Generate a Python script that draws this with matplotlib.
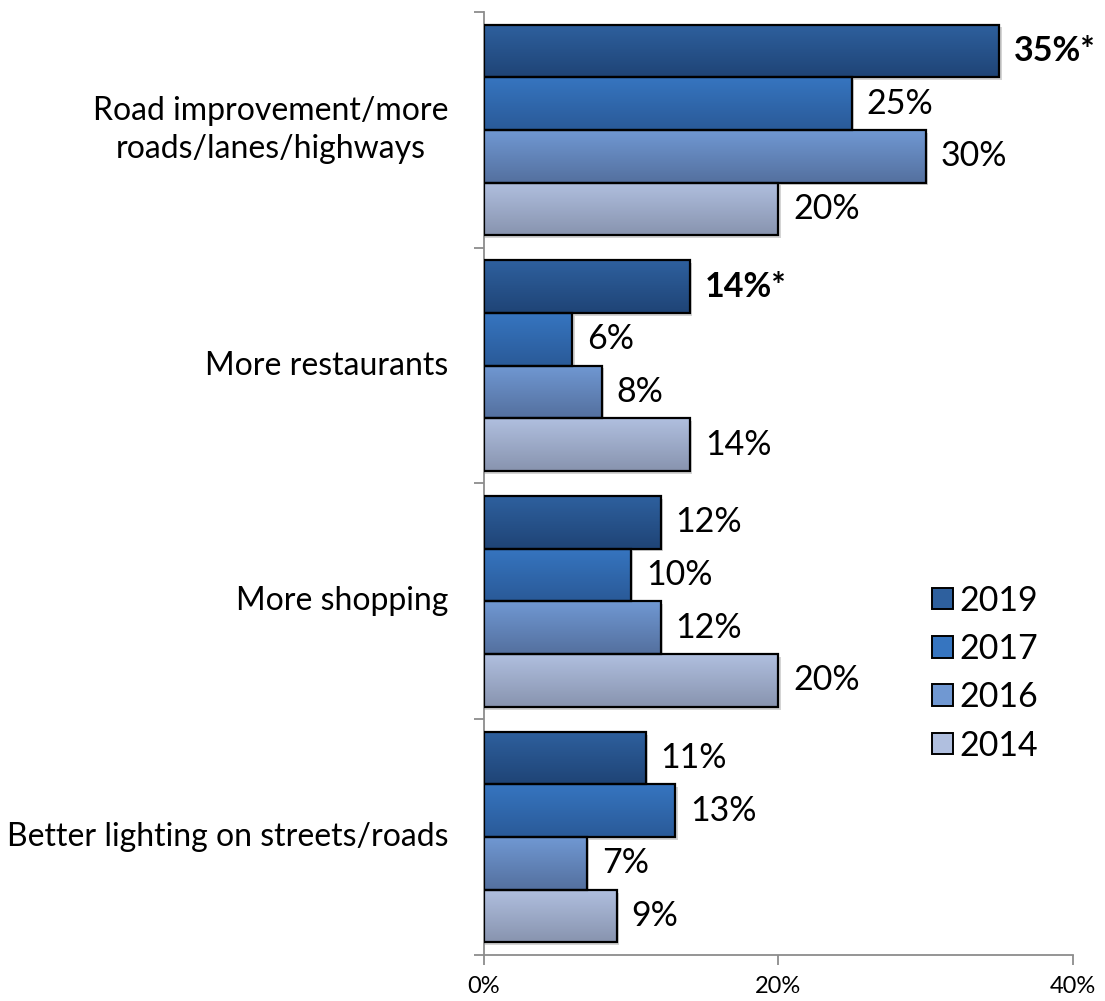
import numpy as np
import matplotlib
matplotlib.use("Agg")
import matplotlib.pyplot as plt
from matplotlib.colors import LinearSegmentedColormap
from matplotlib.patches import Patch

categories = ["Road improvement/more\nroads/lanes/highways",
              "More restaurants",
              "More shopping",
              "Better lighting on streets/roads"]
years = ["2019", "2017", "2016", "2014"]
values = {
    "2019": [35, 14, 12, 11],
    "2017": [25, 6, 10, 13],
    "2016": [30, 8, 12, 7],
    "2014": [20, 14, 20, 9],
}
labels = {
    "2019": ["35%*", "14%*", "12%", "11%"],
    "2017": ["25%", "6%", "10%", "13%"],
    "2016": ["30%", "8%", "12%", "7%"],
    "2014": ["20%", "14%", "20%", "9%"],
}
bold = {"35%*", "14%*"}

# top/bottom colours of the vertical gradient for each year
grad = {
    "2019": ("#2e609e", "#1f4476"),
    "2017": ("#3675c0", "#2a5a98"),
    "2016": ("#7098d2", "#54709f"),
    "2014": ("#b0bfdf", "#8894af"),
}

plt.rcParams['font.family'] = ['Lato', 'DejaVu Sans']

fig = plt.figure(figsize=(11.05, 10.01), dpi=100)
ax = fig.add_axes([0.438, 0.046, 0.533, 0.942])

h = 0.2235
y0 = np.arange(len(categories))
ramp = np.linspace(0, 1, 64).reshape(-1, 1)

for i, yr in enumerate(years):
    pos = y0 - 1.5 * h + i * h
    bars = ax.barh(pos, values[yr], height=h, facecolor="none",
                   edgecolor="black", linewidth=1.6, zorder=3)
    cmap = LinearSegmentedColormap.from_list(yr, [grad[yr][0], grad[yr][1]])
    for b, lab in zip(bars, labels[yr]):
        x, y, w, hh = b.get_x(), b.get_y(), b.get_width(), b.get_height()
        # soft drop shadow
        ax.add_patch(plt.Rectangle((x, y + 0.012), w + 0.15, hh, facecolor="#d4d4d4",
                                   edgecolor="none", zorder=1))
        ax.imshow(ramp, cmap=cmap, aspect="auto", extent=(x, x + w, y + hh, y),
                  zorder=2, interpolation="bicubic")
        ax.text(x + w + 1.0, y + hh / 2, lab, va="center", ha="left",
                fontsize=24.5, fontweight="bold" if lab in bold else "normal")

ax.set_xlim(0, 40)
ax.set_ylim(3.5, -0.5)

ax.set_xticks([0, 20, 40])
ax.set_xticklabels(["0%", "20%", "40%"], fontsize=17)
ax.set_yticks(np.arange(-0.5, 4.0, 1.0))
ax.set_yticklabels([])
ax.tick_params(axis="both", direction="out", length=7.5, width=1.3, color="#8c8c8c")
ax.tick_params(axis="x", pad=8)

for i, cat in enumerate(categories):
    ax.text(-2.4, i, cat, ha="right", va="center", multialignment="center",
            fontsize=23, linespacing=1.35)

for s in ["top", "right"]:
    ax.spines[s].set_visible(False)
for s in ["left", "bottom"]:
    ax.spines[s].set_color("#8c8c8c")
    ax.spines[s].set_linewidth(1.3)

handles = [Patch(facecolor=grad[yr][0], edgecolor="black", linewidth=1.4) for yr in years]
ax.legend(handles, years, loc="center left", bbox_to_anchor=(0.761, 0.299),
          frameon=False, fontsize=24.5, handlelength=0.6, handleheight=0.6,
          handletextpad=0.2, labelspacing=0.48, borderpad=0, borderaxespad=0)

plt.savefig("out.png", dpi=100)
